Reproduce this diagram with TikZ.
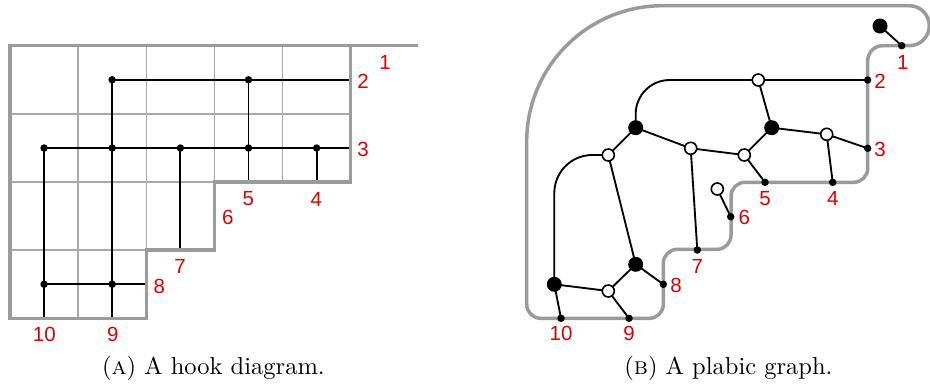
\documentclass[tikz,border=0pt]{standalone}
\usepackage{fontspec}
\newfontfamily\labfont{Liberation Sans}
\newfontfamily\capfont{lmroman10-regular}[Extension=.otf, SmallCapsFont=lmromancaps10-regular.otf]
\pgfdeclarelayer{back}
\pgfdeclarelayer{edges}
\pgfdeclarelayer{outline}
\pgfsetlayers{back,edges,outline,main}
\definecolor{labred}{RGB}{220,0,0}
\definecolor{bgray}{RGB}{155,155,155}
\definecolor{lgray}{RGB}{170,170,170}
\tikzset{
  thickgray/.style={draw=bgray, line width=3.5pt},
  thingray/.style={draw=lgray, line width=1.6pt},
  edge/.style={draw=black, line width=1.85pt},
  dot/.style={circle, fill=black, inner sep=0pt, minimum size=7.5pt},
  bnode/.style={circle, fill=black, inner sep=0pt, minimum size=15pt},
  wnode/.style={circle, draw=black, line width=1.6pt, fill=white, inner sep=0pt, minimum size=12pt},
  lab/.style={text=labred, font=\labfont\fontsize{20.5}{24}\selectfont, inner sep=0pt},
  captext/.style={anchor=base, inner sep=0pt, font=\capfont\fontsize{24.5}{29}\selectfont},
}
\begin{document}
\begin{tikzpicture}[x=1pt,y=-1pt]
\useasboundingbox (0,0) rectangle (930,384);

% ---------------- (A) hook diagram ----------------
\begin{pgfonlayer}{back}
  \draw[thingray] (78.1,45.7) -- (78.1,318.3);
  \draw[thingray] (146.3,45.7) -- (146.3,250.1);
  \draw[thingray] (214.4,45.7) -- (214.4,182);
  \draw[thingray] (282.6,45.7) -- (282.6,182);
  \draw[thingray] (10,113.9) -- (350.7,113.9);
  \draw[thingray] (10,182) -- (214.4,182);
  \draw[thingray] (10,250.1) -- (146.3,250.1);
\end{pgfonlayer}
\begin{pgfonlayer}{outline}
  \draw[thickgray] (418,45.7) -- (10,45.7) -- (10,318.3) -- (146.3,318.3) -- (146.3,250.1)
    -- (214.4,250.1) -- (214.4,182) -- (350.7,182) -- (350.7,45.7);
\end{pgfonlayer}

\node[dot] (ha2) at (112.2,79.8) {};
\node[dot] (hb2) at (248.5,79.8) {};
\node[dot] (ha3) at (44.1,148) {};
\node[dot] (hb3) at (112.2,148) {};
\node[dot] (hc3) at (180.4,148) {};
\node[dot] (hd3) at (248.5,148) {};
\node[dot] (he3) at (316.6,148) {};
\node[dot] (ha8) at (44.1,284.2) {};
\node[dot] (hb8) at (112.2,284.2) {};
\coordinate (hx2) at (350.7,79.8);
\coordinate (hx3) at (350.7,148);
\coordinate (hx4) at (316.6,182);
\coordinate (hx5) at (248.5,182);
\coordinate (hx7) at (180.4,250.1);
\coordinate (hx8) at (146.3,284.2);
\coordinate (hx9) at (112.2,318.3);
\coordinate (hx10) at (44.1,318.3);

\begin{pgfonlayer}{edges}
  \draw[edge] (ha2.center) -- (hx2);
  \draw[edge] (ha2.center) -- (hx9);
  \draw[edge] (hb2.center) -- (hx5);
  \draw[edge] (ha3.center) -- (hx3);
  \draw[edge] (ha3.center) -- (hx10);
  \draw[edge] (hc3.center) -- (hx7);
  \draw[edge] (he3.center) -- (hx4);
  \draw[edge] (ha8.center) -- (hx8);
\end{pgfonlayer}

\node[lab] (hl1) at (385,62.3) {1};
\node[lab] (hl2) at (363,81.7) {2};
\node[lab] (hl3) at (363,149) {3};
\node[lab] (hl4) at (316.3,199) {4};
\node[lab] (hl5) at (248.3,199) {5};
\node[lab] (hl6) at (227.7,217.7) {6};
\node[lab] (hl7) at (180,266.7) {7};
\node[lab] (hl8) at (159.3,286) {8};
\node[lab] (hl9) at (112.7,334.3) {9};
\node[lab] (hl10) at (44.3,334.3) {10};

\node[captext] (capA) at (213.4,374) {(\textsc{a}) A hook diagram.};

% ---------------- (B) plabic graph ----------------
\begin{pgfonlayer}{back}
  \draw[thickgray] (867.7,120) [rounded corners=14] -- (867.7,182.3) -- (731,182.3) -- (731,249.3)
    -- (663.3,249.3) -- (663.3,318.3) -- (526.7,318.3) [rounded corners=136] -- (526.7,5.7)
    [rounded corners=20] -- (929.3,5.7) -- (929.3,45.7) [rounded corners=15] -- (867.7,45.7) -- (867.7,120);
\end{pgfonlayer}

\node[dot] (p1) at (901.7,45.7) {};
\node[dot] (p2) at (867.7,80) {};
\node[dot] (p3) at (867.7,148.3) {};
\node[dot] (p4) at (832.7,182.3) {};
\node[dot] (p5) at (765,182.3) {};
\node[dot] (p6) at (730.7,216.7) {};
\node[dot] (p7) at (697.3,250) {};
\node[dot] (p8) at (663.3,284.3) {};
\node[dot] (p9) at (629,318.3) {};
\node[dot] (p10) at (561,318.3) {};

\node[bnode] (Bt) at (880,26) {};
\node[wnode] (W1) at (758.3,80) {};
\node[bnode] (B1) at (771.7,127.7) {};
\node[wnode] (W2) at (826.7,134.3) {};
\node[wnode] (W3) at (744.3,155) {};
\node[wnode] (W4) at (717.3,189) {};
\node[wnode] (W5) at (690.7,148.3) {};
\node[bnode] (B2) at (635.7,127.7) {};
\node[wnode] (W6) at (608.3,155) {};
\node[bnode] (B3) at (635.7,264.3) {};
\node[wnode] (W7) at (608.3,291) {};
\node[bnode] (B4) at (554.3,284.3) {};

\begin{pgfonlayer}{edges}
  \draw[edge] (Bt.center) -- (p1.center);
  \draw[edge] (W1.center) -- (p2.center);
  \draw[edge] (W1.center) -- (B1.center);
  \draw[edge, rounded corners=34] (W1.center) -| (B2.center);
  \draw[edge] (B1.center) -- (W2.center);
  \draw[edge] (B1.center) -- (W3.center);
  \draw[edge] (W2.center) -- (p3.center);
  \draw[edge] (W2.center) -- (p4.center);
  \draw[edge] (W3.center) -- (p5.center);
  \draw[edge] (W3.center) -- (W5.center);
  \draw[edge] (W4.center) -- (p6.center);
  \draw[edge] (W5.center) -- (B2.center);
  \draw[edge] (W5.center) -- (p7.center);
  \draw[edge] (B2.center) -- (W6.center);
  \draw[edge] (W6.center) -- (B3.center);
  \draw[edge, rounded corners=38] (W6.center) -| (B4.center);
  \draw[edge] (B3.center) -- (W7.center);
  \draw[edge] (B3.center) -- (p8.center);
  \draw[edge] (W7.center) -- (B4.center);
  \draw[edge] (W7.center) -- (p9.center);
  \draw[edge] (B4.center) -- (p10.center);
\end{pgfonlayer}

\node[lab] (pl1) at (902.7,62.3) {1};
\node[lab] (pl2) at (880,81) {2};
\node[lab] (pl3) at (880,149.3) {3};
\node[lab] (pl4) at (832.7,198.3) {4};
\node[lab] (pl5) at (765,198.3) {5};
\node[lab] (pl6) at (744.3,217.7) {6};
\node[lab] (pl7) at (697.3,266) {7};
\node[lab] (pl8) at (676,285) {8};
\node[lab] (pl9) at (629,333.3) {9};
\node[lab] (pl10) at (561,333.3) {10};

\node[captext] (capB) at (728.4,374) {(\textsc{b}) A plabic graph.};
\end{tikzpicture}
\end{document}
